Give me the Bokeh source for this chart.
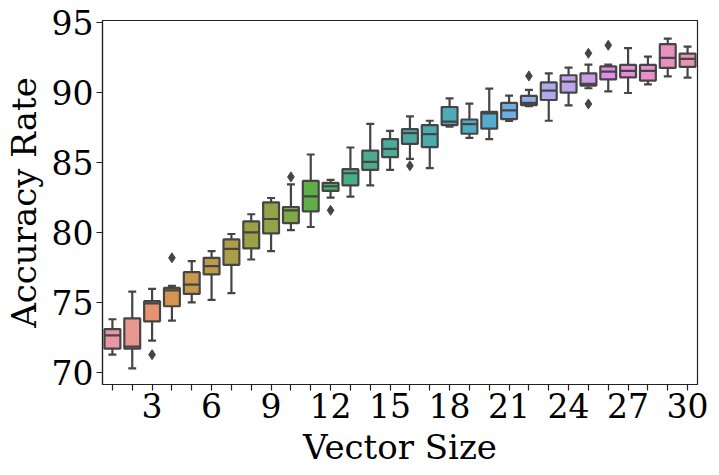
import math
import colorsys
from bokeh.plotting import figure
from bokeh.models import Range1d, FixedTicker
from bokeh.embed import file_html
from bokeh.resources import INLINE

# ---------------- data ----------------
vector_size = list(range(1, 31))
whisker_low = [71.27, 70.29, 72.27, 73.70, 75.00, 75.18, 75.66, 78.07, 78.67, 80.17,
               80.39, 82.49, 82.56, 83.37, 84.47, 85.26, 84.59, 87.55, 86.76, 86.67,
               87.96, 89.03, 87.98, 89.08, 90.30, 90.08, 89.96, 90.58, 91.15, 91.06]
q1 = [71.70, 71.70, 73.65, 74.73, 75.61, 77.00, 77.69, 78.86, 79.93, 80.67,
      81.51, 82.97, 83.37, 84.47, 85.38, 86.33, 86.10, 87.67, 87.05, 87.41,
      88.10, 89.10, 89.46, 89.99, 90.49, 90.94, 91.08, 90.85, 91.75, 91.83]
median = [72.65, 71.84, 74.94, 75.87, 76.28, 77.60, 78.83, 80.00, 80.96, 81.58,
          82.58, 83.30, 84.23, 85.04, 85.97, 87.10, 87.03, 87.91, 87.74, 88.50,
          88.72, 89.25, 90.13, 90.77, 90.61, 91.49, 91.54, 91.54, 92.47, 92.40]
q3 = [73.10, 73.87, 75.09, 76.04, 77.16, 78.19, 79.50, 80.79, 82.15, 81.82,
      83.68, 83.54, 84.52, 85.85, 86.67, 87.38, 87.67, 88.96, 88.07, 88.62,
      89.25, 89.75, 90.72, 91.23, 91.37, 91.87, 91.97, 91.97, 93.45, 92.78]
whisker_high = [73.80, 75.78, 75.97, 76.18, 77.95, 78.67, 79.89, 81.30, 82.46, 83.44,
                85.57, 83.75, 86.07, 87.76, 87.26, 88.29, 87.98, 89.58, 89.20, 90.27,
                89.77, 90.18, 91.37, 91.78, 91.99, 91.99, 93.16, 92.56, 93.85, 93.28]
outlier_x = [3, 4, 10, 12, 16, 22, 25, 25, 26]
outlier_y = [71.27, 78.19, 83.97, 81.58, 84.76, 91.18, 92.80, 89.18, 93.37]

y_ticks = [70, 75, 80, 85, 90, 95]
x_label_every = 3

# ---------------- seaborn-like husl palette ----------------
_M = [[3.2406, -1.5372, -0.4986],
      [-0.9689, 1.8758, 0.0415],
      [0.0557, -0.2040, 1.0570]]
_refU, _refV = 0.19784, 0.46834
_lab_e, _lab_k = 0.008856, 903.3


def _max_chroma(L, H):
    hrad = math.radians(H)
    sinH, cosH = math.sin(hrad), math.cos(hrad)
    sub1 = (L + 16) ** 3 / 1560896.0
    sub2 = sub1 if sub1 > 0.008856 else L / 903.3
    result = float("inf")
    for m1, m2, m3 in _M:
        top = (0.99915 * m1 + 1.05122 * m2 + 1.14460 * m3) * sub2
        rbottom = 0.86330 * m3 - 0.17266 * m2
        lbottom = 0.12949 * m3 - 0.38848 * m1
        bottom = (rbottom * sinH + lbottom * cosH) * sub2
        for t in (0.0, 1.0):
            C = L * (top - 1.05122 * t) / (bottom + 0.17266 * sinH * t)
            if 0.0 < C < result:
                result = C
    return result


def _f_inv(t):
    return t ** 3 if t ** 3 > _lab_e else (116.0 * t - 16.0) / _lab_k


def _from_linear(c):
    return 12.92 * c if c <= 0.0031308 else 1.055 * c ** (1 / 2.4) - 0.055


def husl_to_rgb(H, S, L):
    C = _max_chroma(L, H) / 100.0 * S
    hr = math.radians(H)
    U, V = math.cos(hr) * C, math.sin(hr) * C
    varY = _f_inv((L + 16.0) / 116.0)
    varU = U / (13.0 * L) + _refU
    varV = V / (13.0 * L) + _refV
    Y = varY
    X = -(9.0 * Y * varU) / ((varU - 4.0) * varV - varU * varV)
    Z = (9.0 * Y - 15.0 * varV * Y - varV * X) / (3.0 * varV)
    rgb = [_from_linear(r[0] * X + r[1] * Y + r[2] * Z) for r in _M]
    return [min(1.0, max(0.0, c)) for c in rgb]


def to_hex(c):
    return "#%02x%02x%02x" % tuple(int(round(v * 255)) for v in c)


n = len(vector_size)
hues = [((i / n) + 0.01) % 1 * 359 for i in range(n)]
raw = [husl_to_rgb(h, 0.9 * 99, 0.7 * 99) for h in hues]
colors_rgb = []
for c in raw:
    hh, ll, ss = colorsys.rgb_to_hls(*c)
    colors_rgb.append(colorsys.hls_to_rgb(hh, ll, ss * 0.75))
colors = [to_hex(c) for c in colors_rgb]
lum = min(colorsys.rgb_to_hls(*c)[1] for c in colors_rgb) * 0.6
gray = to_hex((lum, lum, lum))

# ---------------- figure ----------------
FONT = "DejaVu Serif"
p = figure(width=719, height=475, x_range=Range1d(0.5, 30.5), y_range=Range1d(69.14, 95.14),
           output_backend="svg", toolbar_location=None,
           min_border_left=101, min_border_right=22, min_border_top=20, min_border_bottom=91)
p.grid.visible = False
p.outline_line_color = "#222222"
p.outline_line_width = 1.2
p.background_fill_color = "white"
p.border_fill_color = "white"

bw = 0.8
cw = 0.4
lw = 2.2
x0 = [x - bw / 2 for x in vector_size]
x1 = [x + bw / 2 for x in vector_size]
c0 = [x - cw / 2 for x in vector_size]
c1 = [x + cw / 2 for x in vector_size]

p.segment(x0=vector_size, x1=vector_size, y0=q3, y1=whisker_high, line_color=gray, line_width=lw)
p.segment(x0=vector_size, x1=vector_size, y0=q1, y1=whisker_low, line_color=gray, line_width=lw)
p.segment(x0=c0, x1=c1, y0=whisker_high, y1=whisker_high, line_color=gray, line_width=lw)
p.segment(x0=c0, x1=c1, y0=whisker_low, y1=whisker_low, line_color=gray, line_width=lw)
p.vbar(x=vector_size, width=bw, bottom=q1, top=q3, fill_color=colors, line_color=gray, line_width=lw)
p.segment(x0=x0, x1=x1, y0=median, y1=median, line_color=gray, line_width=lw)
p.scatter(x=outlier_x, y=outlier_y, marker="diamond", size=10, fill_color=gray, line_color=gray)

for ax in (p.xaxis[0], p.yaxis[0]):
    ax.major_label_text_font = FONT
    ax.major_label_text_font_size = "33px"
    ax.major_label_text_color = "black"
    ax.axis_label_text_font = FONT
    ax.axis_label_text_font_size = "34px"
    ax.axis_label_text_font_style = "normal"
    ax.axis_label_text_color = "black"
    ax.axis_line_color = "#222222"
    ax.axis_line_width = 1.2
    ax.major_tick_line_color = "#222222"
    ax.major_tick_line_width = 1.2
    ax.major_tick_out = 6
    ax.major_tick_in = 0
    ax.minor_tick_line_color = None

p.xaxis.axis_label = "Vector Size"
p.yaxis.axis_label = "Accuracy Rate"
p.xaxis.ticker = FixedTicker(ticks=vector_size)
p.xaxis.major_label_overrides = {v: (str(v) if v % x_label_every == 0 else "") for v in vector_size}
p.yaxis.ticker = FixedTicker(ticks=y_ticks)
p.xaxis.major_label_standoff = 2
p.xaxis.axis_label_standoff = 6
p.yaxis.major_label_standoff = 3
p.yaxis.axis_label_standoff = 5

open("out.html", "w").write(file_html(p, INLINE))
